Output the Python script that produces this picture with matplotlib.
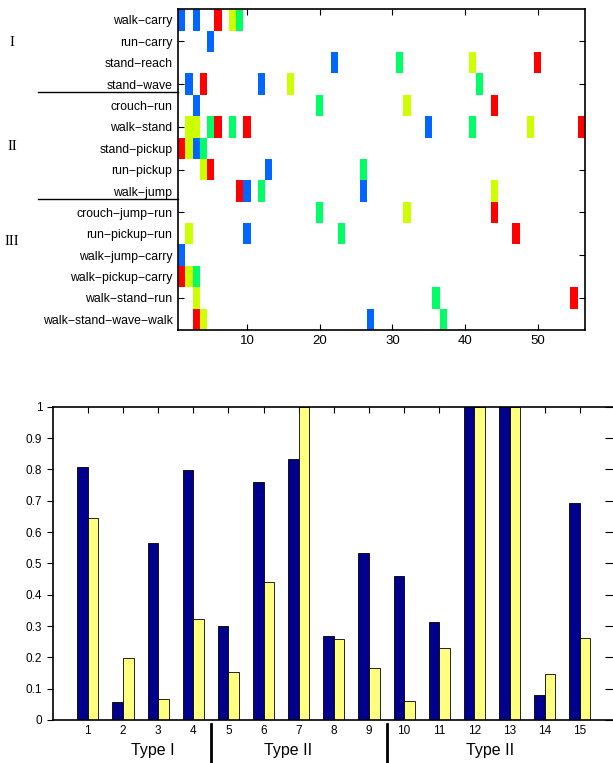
import matplotlib
matplotlib.use("Agg")
import matplotlib.pyplot as plt
from matplotlib.transforms import blended_transform_factory
import numpy as np

plt.rcParams['font.family'] = ['Liberation Sans', 'DejaVu Sans']

# ---------------- data: top chart ----------------
activities = ["walk−carry", "run−carry", "stand−reach", "stand−wave",
              "crouch−run", "walk−stand", "stand−pickup", "run−pickup", "walk−jump",
              "crouch−jump−run", "run−pickup−run", "walk−jump−carry",
              "walk−pickup−carry", "walk−stand−run", "walk−stand−wave−walk"]
groups = ["I", "II", "III"]

cells_blue = {"walk−carry": [1, 3], "run−carry": [5], "stand−reach": [22],
              "stand−wave": [2, 12], "crouch−run": [3], "walk−stand": [35],
              "stand−pickup": [3], "run−pickup": [13], "walk−jump": [10, 26],
              "run−pickup−run": [10], "walk−jump−carry": [1],
              "walk−stand−wave−walk": [27]}
cells_yellow = {"walk−carry": [8], "stand−reach": [41], "stand−wave": [16],
                "crouch−run": [32], "walk−stand": [2, 3, 49], "stand−pickup": [2],
                "run−pickup": [4], "walk−jump": [44], "crouch−jump−run": [32],
                "run−pickup−run": [2], "walk−pickup−carry": [2],
                "walk−stand−run": [3], "walk−stand−wave−walk": [4]}
cells_green = {"walk−carry": [9], "stand−reach": [31], "stand−wave": [42],
               "crouch−run": [20], "walk−stand": [5, 8, 41], "stand−pickup": [4],
               "run−pickup": [26], "walk−jump": [12], "crouch−jump−run": [20],
               "run−pickup−run": [23], "walk−pickup−carry": [3],
               "walk−stand−run": [36], "walk−stand−wave−walk": [37]}
cells_red = {"walk−carry": [6], "stand−reach": [50], "stand−wave": [4],
             "crouch−run": [44], "walk−stand": [6, 10, 56], "stand−pickup": [1],
             "run−pickup": [5], "walk−jump": [9], "crouch−jump−run": [44],
             "run−pickup−run": [47], "walk−pickup−carry": [1],
             "walk−stand−run": [55], "walk−stand−wave−walk": [3]}

# ---------------- data: bottom chart ----------------
bar_ids = list(range(1, 16))
series_blue = [0.806, 0.059, 0.566, 0.797, 0.299, 0.761, 0.832, 0.268,
               0.532, 0.459, 0.313, 1.0, 1.0, 0.079, 0.693]
series_yellow = [0.645, 0.199, 0.066, 0.323, 0.154, 0.441, 1.0, 0.259,
                 0.165, 0.061, 0.229, 1.0, 1.0, 0.148, 0.263]
type_labels = ["Type I", "Type II", "Type II"]

W, H = 613, 763
fig = plt.figure(figsize=(W / 100, H / 100), dpi=100)

# ---------------- top chart ----------------
ax1 = fig.add_axes([178 / W, 1 - 330 / H, 407 / W, 320.7 / H])
colors = [(cells_blue, "#0066FF"), (cells_yellow, "#CCFF00"),
          (cells_green, "#00FF66"), (cells_red, "#FF0000")]
for cells, col in colors:
    for act, xs in cells.items():
        r = activities.index(act) + 1
        ax1.bar(xs, 1.0, bottom=r - 0.5, width=1.0, color=col, edgecolor='none',
                align='center', zorder=2, clip_on=False)
ax1.set_xlim(0.5, 56.5)
ax1.set_ylim(15.5, 0.5)
ax1.yaxis.remove_overlapping_locs = False
ax1.set_yticks(range(1, 16))
ax1.set_yticklabels(activities, fontsize=8.8)
ax1.tick_params(axis='y', which='major', length=0, pad=4)
ax1.set_yticks(range(2, 16, 2), minor=True)
ax1.tick_params(axis='y', which='minor', direction='in', length=4, left=True,
                right=True, width=0.8)
ax1.set_xticks([10, 20, 30, 40, 50])
ax1.tick_params(axis='x', direction='in', length=4, top=True, bottom=True,
                labelsize=9.5, width=0.8)
for s in ax1.spines.values():
    s.set_linewidth(1.2)

# group labels and separators
tr = blended_transform_factory(fig.transFigure, ax1.transData)
for lbl, yv in zip(groups, [2.05, 6.93, 11.37]):
    fig.text(12 / W, yv, lbl, transform=tr, family=['Liberation Serif', 'DejaVu Serif'],
             fontsize=10.5, ha='center', va='center')
for yv in [4.36, 9.38]:
    ax1.plot([38 / W, 178 / W], [yv, yv], transform=tr, color='black',
             lw=1.0, clip_on=False)

# ---------------- bottom chart ----------------
ax2 = fig.add_axes([52.7 / W, 1 - 720 / H, (615 - 52.7) / W, 313.3 / H])
x = np.array(bar_ids, dtype=float)
bw = 0.3
ax2.bar(x - bw / 2, series_blue, width=bw, color='#00008C', edgecolor='black',
        linewidth=0.6, zorder=2)
ax2.bar(x + bw / 2, series_yellow, width=bw, color='#FFFF80', edgecolor='black',
        linewidth=0.6, zorder=2)
ax2.set_xlim(0, 16)
ax2.set_ylim(0, 1)
ax2.set_xticks(bar_ids)
ax2.set_xticklabels([str(i) for i in bar_ids], fontsize=8.5)
ax2.tick_params(axis='x', bottom=False, top=True, direction='in', length=4,
                width=0.8, labelbottom=True)
yt = np.round(np.arange(0, 1.01, 0.1), 1)
ax2.set_yticks(yt)
ax2.set_yticklabels(["0"] + [f"{v:.1f}" for v in yt[1:-1]] + ["1"], fontsize=8.5)
ax2.tick_params(axis='y', left=True, right=False, direction='out', length=4, width=0.8)
# inward ticks on the right side
ax2r = ax2.secondary_yaxis('right')
ax2r.set_yticks(yt)
ax2r.set_yticklabels([])
ax2r.tick_params(direction='in', length=7, width=0.8)
for s in ax2.spines.values():
    s.set_linewidth(1.2)

tr2 = blended_transform_factory(ax2.transData, fig.transFigure)
for xv in [4.5, 9.5]:
    ax2.plot([xv, xv], [1 - 724 / H, 0.0], transform=tr2, color='black', lw=2,
             clip_on=False)
for lbl, xv in zip(type_labels, [2.85, 6.7, 12.45]):
    fig.text(xv, 1 - 750 / H, lbl, transform=tr2, fontsize=11.5, ha='center',
             va='center')

fig.savefig("out.png", dpi=100)
